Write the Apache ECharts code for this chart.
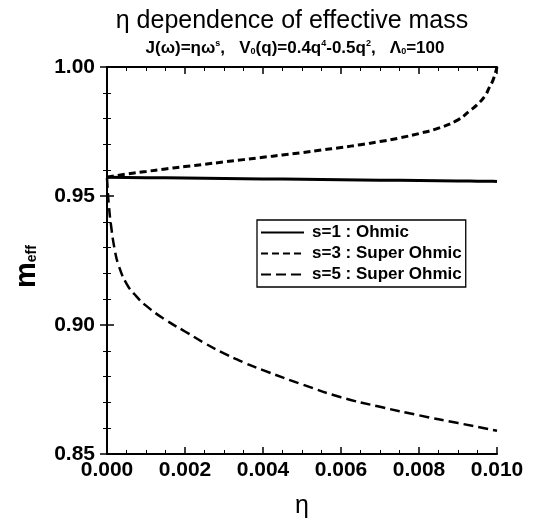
<!DOCTYPE html>
<html>
<head>
<meta charset="utf-8">
<script src="https://cdn.jsdelivr.net/npm/echarts@6/dist/echarts.min.js"></script>
<style>html,body{margin:0;padding:0;background:#fff}#c{width:533px;height:524px}</style>
</head>
<body>
<div id="c"></div>
<script>
// Data
const etaA = [0, 0.0005, 0.001, 0.0015, 0.002, 0.0025, 0.003, 0.0035, 0.004, 0.0045, 0.005, 0.0055, 0.006, 0.0065, 0.007, 0.0075, 0.008, 0.0085, 0.009, 0.0093, 0.0095, 0.0097, 0.0098, 0.0099, 0.010];
const s1 = [0.9573, 0.9572, 0.9571, 0.9571, 0.9570, 0.9569, 0.9568, 0.9567, 0.9566, 0.9566, 0.9565, 0.9564, 0.9563, 0.9562, 0.9561, 0.9561, 0.9560, 0.9559, 0.9558, 0.9558, 0.9557, 0.9557, 0.9557, 0.9557, 0.9556];
const s3 = [0.9573, 0.9585, 0.9595, 0.9605, 0.9614, 0.9623, 0.9632, 0.9641, 0.9650, 0.9659, 0.9668, 0.9678, 0.9688, 0.9699, 0.9711, 0.9725, 0.9742, 0.9763, 0.9795, 0.983, 0.9855, 0.989, 0.992, 0.995, 1.000];
const etaB = [0, 0.00002, 0.00005, 0.0001, 0.0002, 0.0003, 0.0005, 0.0007, 0.001, 0.0015, 0.002, 0.0025, 0.003, 0.0035, 0.004, 0.005, 0.006, 0.007, 0.008, 0.009, 0.010];
const s5 = [0.957, 0.952, 0.946, 0.939, 0.929, 0.923, 0.916, 0.912, 0.9075, 0.902, 0.8975, 0.893, 0.889, 0.8855, 0.8825, 0.877, 0.872, 0.8683, 0.8650, 0.8620, 0.8590];
const seriesNames = ['s=1 : Ohmic', 's=3 : Super Ohmic', 's=5 : Super Ohmic'];
const xTicks = [0, 0.002, 0.004, 0.006, 0.008, 0.010];
const yTicks = [0.85, 0.90, 0.95, 1.00];

const pairs = (xs, ys) => xs.map((x, i) => [x, ys[i]]);
const F = 'Liberation Sans, Arial, sans-serif';

const chart = echarts.init(document.getElementById('c'), null, {renderer: 'canvas'});
const axisLine = {show: true, lineStyle: {color: '#000', width: 2}};
const axisTick = {show: true, inside: true, length: 7, lineStyle: {color: '#000', width: 1.5}};
const minorTickX = {show: true, splitNumber: 4, length: 4, lineStyle: {color: '#000', width: 1}};
const minorTickY = {show: true, splitNumber: 5, length: 4, lineStyle: {color: '#000', width: 1}};
chart.setOption({
  animation: false,
  backgroundColor: '#fff',
  title: [{
    text: 'η dependence of effective mass',
    left: 287, top: 4, textAlign: 'center',
    textStyle: {fontFamily: F, fontSize: 25, fontWeight: 'normal', color: '#000'}
  }, {
    text: '{t|J(ω)=ηω}{sup|s}{t|,   V}{sub|0}{t|(q)=0.4q}{sup|4}{t|-0.5q}{sup|2}{t|,   Λ}{sub|0}{t|=100}',
    left: 290, top: 34, textAlign: 'center',
    textStyle: {
      fontFamily: F, fontSize: 17, fontWeight: 'bold', color: '#000',
      rich: {
        t: {fontFamily: F, fontSize: 17, fontWeight: 'bold', color: '#000'},
        sup: {fontFamily: F, fontSize: 9, fontWeight: 'bold', color: '#000', padding: [0, 0, 10, 0]},
        sub: {fontFamily: F, fontSize: 9, fontWeight: 'bold', color: '#000', padding: [7, 0, 0, 0]}
      }
    }
  }],
  legend: {
    data: seriesNames,
    orient: 'vertical', left: 257, top: 220,
    itemWidth: 43, itemHeight: 14, itemGap: 4,
    itemStyle: {opacity: 0},
    borderColor: '#000', borderWidth: 1.3, borderRadius: 0,
    padding: [4, 4, 4, 3],
    textStyle: {fontFamily: F, fontSize: 17, fontWeight: 'bold', color: '#000', padding: [0, 0, 0, 3]}
  },
  grid: {left: 107, right: 36, top: 67, bottom: 60},
  xAxis: [{
    type: 'value', min: 0, max: 0.01, interval: 0.002, position: 'bottom',
    minorTick: minorTickX, axisLine: axisLine, axisTick: axisTick, splitLine: {show: false},
    axisLabel: {
      margin: 6, fontFamily: F, fontSize: 21, fontWeight: 'bold', color: '#000',
      formatter: v => { const t = xTicks.find(k => Math.abs(k - v) < 1e-9); return t === undefined ? '' : t.toFixed(3); }
    },
    name: 'η', nameLocation: 'middle', nameGap: 40,
    nameTextStyle: {fontFamily: F, fontSize: 25, color: '#000'}
  }, {
    type: 'value', min: 0, max: 0.01, interval: 0.002, position: 'top',
    minorTick: minorTickX, axisLine: axisLine, axisTick: axisTick, splitLine: {show: false},
    axisLabel: {show: false}
  }],
  yAxis: [{
    type: 'value', min: 0.85, max: 1.0, interval: 0.05, position: 'left',
    minorTick: minorTickY, axisLine: axisLine, axisTick: axisTick, splitLine: {show: false},
    axisLabel: {
      margin: 12, fontFamily: F, fontSize: 21, fontWeight: 'bold', color: '#000',
      formatter: v => { const t = yTicks.find(k => Math.abs(k - v) < 1e-9); return t === undefined ? '' : t.toFixed(2); }
    },
    name: '{m|m}{s|eff}', nameLocation: 'middle', nameGap: 66, nameRotate: 90,
    nameTextStyle: {
      padding: [0, 12, 0, 0],
      rich: {
        m: {fontFamily: F, fontSize: 29, fontWeight: 'bold', color: '#000'},
        s: {fontFamily: F, fontSize: 14, fontWeight: 'bold', color: '#000', padding: [12, 0, 0, 0]}
      }
    }
  }, {
    type: 'value', min: 0.85, max: 1.0, interval: 0.05, position: 'right',
    minorTick: minorTickY, axisLine: axisLine, axisTick: axisTick, splitLine: {show: false},
    axisLabel: {show: false}
  }],
  series: [{
    name: seriesNames[0], type: 'line', symbol: 'none', smooth: false,
    data: pairs(etaA, s1), lineStyle: {color: '#000', width: 3, type: 'solid'}, itemStyle: {color: '#000'}
  }, {
    name: seriesNames[1], type: 'line', symbol: 'none', smooth: true,
    data: pairs(etaA, s3), lineStyle: {color: '#000', width: 3, type: [7, 4]}, itemStyle: {color: '#000'}
  }, {
    name: seriesNames[2], type: 'line', symbol: 'none', smooth: true,
    data: pairs(etaB, s5), lineStyle: {color: '#000', width: 2.5, type: [10, 5]}, itemStyle: {color: '#000'}
  }]
});
</script>
</body>
</html>
